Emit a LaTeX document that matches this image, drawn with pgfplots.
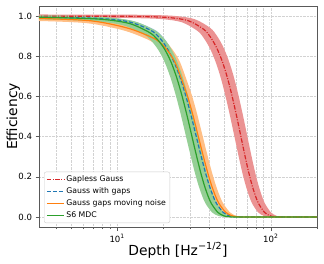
\documentclass[border=0pt]{standalone}
\usepackage{fontspec}
\setmainfont{DejaVu Sans}
\usepackage{pgfplots}
\usepackage{pgfplotstable}
\pgfplotsset{compat=1.18}

\definecolor{bandred}{HTML}{EB9393}
\definecolor{bandblue}{HTML}{8FBBD9}
\definecolor{bandorange}{HTML}{FFBF86}
\definecolor{bandgreen}{HTML}{95CF95}

\makeatletter
\tikzset{rawstroke/.code={\pgfsys@invoke{#1 RG}}}
\makeatother

\pgfplotstableread{
x y
2 1.0
8 0.999
13.5 0.998
21.25 0.993
29 0.977
36.75 0.933
40.6 0.894
44.5 0.841
48.4 0.773
52.25 0.692
56.1 0.599
60 0.5
63.9 0.401
67.75 0.309
71.6 0.227
75.5 0.159
79.4 0.106
83.25 0.067
91 0.023
98.75 0.006
106.5 0.001
130 0
300 0
}\redtbl

\pgfplotstableread{
x y
2 0.995
2.5 0.994
7.15 0.989
11.8 0.972
16.45 0.930
18.775 0.894
21.1 0.841
23.425 0.773
25.75 0.692
28.075 0.599
30.4 0.5
32.725 0.401
35.05 0.309
37.375 0.227
39.7 0.159
42.025 0.106
44.35 0.067
49.0 0.023
53.65 0.006
58.3 0.001
70 0
300 0
}\bluetbl

\pgfplotstableread{
x y
2 0.990
3.1 0.988
6.8 0.976
11.7 0.940
16.6 0.896
19.05 0.868
21.5 0.824
23.95 0.766
26.4 0.681
28.85 0.596
31.3 0.5
33.75 0.401
36.2 0.309
38.65 0.227
41.1 0.159
43.55 0.106
46.0 0.067
50.9 0.023
55.8 0.006
60.7 0.001
75 0
300 0
}\orangetbl

\pgfplotstableread{
x y
2 0.994
3.7 0.993
7.85 0.984
12.0 0.963
16.15 0.919
18.225 0.885
20.3 0.837
22.375 0.773
24.45 0.692
26.525 0.599
28.6 0.5
30.675 0.401
32.75 0.309
34.825 0.227
36.9 0.159
38.975 0.106
41.05 0.067
45.2 0.023
49.35 0.006
53.5 0.001
65 0
300 0
}\greentbl

% band = upper edge (x*f, y*(1+r)) followed by lower edge reversed (x/f, y*(1-r))
\newcommand{\makeband}[5]{% #1 src table, #2 out name, #3 f, #4 1+r, #5 1-r
  \pgfplotstablesort[sort key=x, sort cmp=float >]{\bandrev}{#1}%
  \pgfplotstablecreatecol[create col/expr={\thisrow{x}*#3}]{bx}{#1}%
  \pgfplotstablecreatecol[create col/expr={\thisrow{y}*#4}]{by}{#1}%
  \pgfplotstablecreatecol[create col/expr={\thisrow{x}/#3}]{bx}{\bandrev}%
  \pgfplotstablecreatecol[create col/expr={\thisrow{y}*#5}]{by}{\bandrev}%
  \pgfplotstablevertcat{#2}{#1}%
  \pgfplotstablevertcat{#2}{\bandrev}%
}
\makeband{\redtbl}{\redband}{1.10}{1.008}{0.992}
\makeband{\bluetbl}{\blueband}{1.05}{1.005}{0.995}
\makeband{\orangetbl}{\orangeband}{1.065}{1.012}{0.988}
\makeband{\greentbl}{\greenband}{1.09}{1.01}{0.99}

\begin{document}
\begin{tikzpicture}
\begin{axis}[
  width=278bp, height=221bp, scale only axis,
  xmode=log, xmin=3.1, xmax=200, ymin=-0.05, ymax=1.05,
  name=ax, at={(0,0)}, anchor=south west,
  axis line style={draw=black!65},
  tick style={black!65, line width=0.5pt},
  major tick length=3.5bp, minor tick length=2bp,
  tick align=outside, tick pos=left,
  grid=both,
  major grid style={gray!35, densely dotted, line width=0.5pt},
  minor grid style={gray!35, densely dotted, line width=0.5pt},
  ytick={0,0.2,0.4,0.6,0.8,1.0},
  xtick={10,100}, xticklabels={10\textsuperscript{1},10\textsuperscript{2}},
  minor xtick={4,5,6,7,8,9,20,30,40,50,60,70,80,90,200},
  ticklabel style={font=\fontsize{8.6}{10}\selectfont},
  yticklabel style={/pgf/number format/.cd, fixed, fixed zerofill, precision=1},
  /pgf/number format/assume math mode=true,
  xlabel={Depth [Hz\textsuperscript{−1/2}]},
  ylabel={Efficiency},
  xlabel style={font=\fontsize{13.9}{16}\selectfont, at={(axis description cs:0.5,-0.127)}, anchor=base},
  ylabel style={font=\fontsize{13.9}{16}\selectfont, at={(axis description cs:-0.079,0.5)}, anchor=base},
]
\addplot[fill=bandred, draw=none, smooth] table[x=bx, y=by]{\redband} -- cycle;
\addplot[fill=bandblue, draw=none, smooth] table[x=bx, y=by]{\blueband} -- cycle;
\addplot[fill=bandorange, draw=none, smooth] table[x=bx, y=by]{\orangeband} -- cycle;
\addplot[fill=bandgreen, draw=none, smooth] table[x=bx, y=by]{\greenband} -- cycle;
\end{axis}
\begin{axis}[
  width=278bp, height=221bp, scale only axis,
  xmode=log, xmin=3.1, xmax=200, ymin=-0.05, ymax=1.05,
  at={(0,0)}, anchor=south west,
  hide axis,
  legend style={at={(axis description cs:0.018,0.018)}, anchor=south west,
    font=\fontsize{7.8}{9}\selectfont, draw=black!20, rounded corners=2pt,
    fill=white, inner sep=2pt, row sep=0.5bp},
  legend cell align=left,
]
\addplot[rawstroke={0.839 0.153 0.157}, line width=1.2pt, dash pattern=on 4.5pt off 1.5pt on 1pt off 1.5pt, smooth] table[x=x, y=y]{\redtbl};
\addlegendentry{Gapless Gauss}
\addplot[rawstroke={0.122 0.467 0.706}, line width=1.2pt, dash pattern=on 4pt off 2pt, smooth] table[x=x, y=y]{\bluetbl};
\addlegendentry{Gauss with gaps}
\addplot[rawstroke={1 0.498 0.055}, line width=1.2pt, smooth] table[x=x, y=y]{\orangetbl};
\addlegendentry{Gauss gaps moving noise}
\addplot[rawstroke={0.173 0.627 0.173}, line width=1.2pt, smooth] table[x=x, y=y]{\greentbl};
\addlegendentry{S6 MDC}
\end{axis}
\pgfresetboundingbox
\path[use as bounding box] ([xshift=-39bp,yshift=-37bp]ax.south west) rectangle ([xshift=7bp,yshift=6bp]ax.north east);
\end{tikzpicture}
\end{document}
